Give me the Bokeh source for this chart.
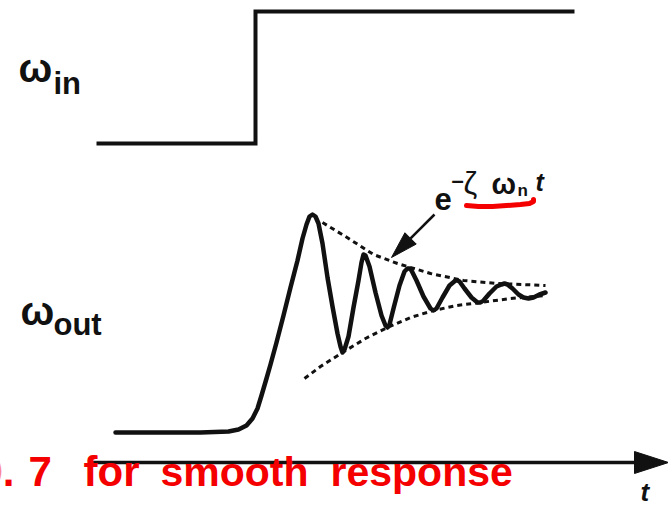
import numpy as np
from bokeh.plotting import figure
from bokeh.models import Range1d
from bokeh.core.properties import value
from bokeh.embed import file_html
from bokeh.resources import INLINE

# Canvas coordinates: horizontal = time, vertical = level (grows downward)
W, H = 668, 508

# Step input ω_in
in_t = [96, 255, 255, 574]
in_level = [143, 143, 11, 11]

# Output ω_out: underdamped step response (points along the trace)
out_t = [115, 200, 228, 238, 246, 252, 257, 261, 266, 270, 276, 283, 290, 297,
         302, 306, 309, 312, 315, 318, 322, 327, 332, 337, 340, 342, 344, 348,
         353, 358, 361, 363, 365, 369, 375, 381, 385, 387, 389, 393, 399, 404,
         407, 409, 411, 416, 423, 430, 433, 436, 442, 449, 455, 457, 459, 464,
         471, 477, 480, 483, 489, 496, 501, 504, 507, 512, 518, 523, 528, 533,
         539, 545]
out_level = [432, 432, 431, 429, 425, 418, 408, 395, 378, 364, 342, 315, 287, 260,
             238, 224, 216, 214, 216, 223, 243, 277, 306, 333, 346, 352, 349, 336,
             307, 280, 262, 254, 255, 266, 292, 315, 325, 327, 324, 308, 285, 271,
             268, 268, 270, 280, 296, 308, 310, 308, 297, 285, 280, 280, 281, 288,
             297, 302, 302, 300, 293, 286, 284, 283, 284, 288, 294, 297, 298, 297,
             294, 292]

# Decay envelopes e^{-ζω_n t}
env_up_t = [322, 345, 373, 397, 430, 463, 497, 545]
env_up_level = [222, 236, 254, 263, 273, 280, 283, 285]
env_lo_t = [304, 320, 342, 365, 387, 410, 433, 456, 480, 510, 545]
env_lo_level = [378, 366, 352, 338, 327, 317, 310, 305, 302, 298, 295]

# Hand-drawn underline under ζω_n
mark_t = [466, 478, 492, 506, 520, 529, 533, 533]
mark_level = [205, 206, 206, 205, 204, 203, 201, 199]

p = figure(width=W, height=H, x_range=Range1d(0, W), y_range=Range1d(H, 0),
           toolbar_location=None, output_backend="svg",
           x_axis_location=None, y_axis_location=None,
           min_border=0, min_border_left=0, min_border_right=0,
           min_border_top=0, min_border_bottom=0)
p.grid.visible = False
p.outline_line_color = None
p.background_fill_color = "white"
p.border_fill_color = "white"

ink = "#111111"
red = "#f50000"

# time axis with arrowhead
p.line([90, 640], [462, 462], line_width=3.5, line_color=ink)
p.patch([634, 668, 634], [451, 462, 473], fill_color=ink, line_color=ink)

# signals
p.line(in_t, in_level, line_width=4, line_color=ink, line_join="miter")
p.line(out_t, out_level, line_width=4.5, line_color=ink, line_join="round",
       line_cap="round")
p.line(env_up_t, env_up_level, line_width=3, line_color=ink, line_dash="5 4")
p.line(env_lo_t, env_lo_level, line_width=3, line_color=ink, line_dash="5 4")

# annotation arrow pointing at the envelope
tip = np.array([391.0, 257.0])
tail = np.array([434.0, 214.0])
d = (tip - tail) / np.linalg.norm(tip - tail)
n = np.array([-d[1], d[0]])
base = tip - 27 * d
p.line([tail[0], base[0]], [tail[1], base[1]], line_width=2.5, line_color=ink)
hx = [tip[0], base[0] + 8 * n[0], base[0] - 8 * n[0]]
hy = [tip[1], base[1] + 8 * n[1], base[1] - 8 * n[1]]
p.patch(hx, hy, fill_color=ink, line_color=ink)

sans = value("Liberation Sans")


def label(x, y, s, size, style="normal", color=ink, align="left"):
    # y is the baseline; the glyph is anchored at its middle
    px = float(size.rstrip("px"))
    p.text(x=[x], y=[y - 0.28 * px], text=[s], text_font=sans,
           text_font_size=size, text_font_style=style, text_color=color,
           text_align=align, text_baseline="middle")


# signal names
label(18, 79, "ω", "40px", "bold")
label(53, 92, "in", "31px", "bold")
label(20, 322, "ω", "40px", "bold")
label(53, 333, "out", "31px", "bold")

# envelope expression
label(434, 207, "e", "31px", "bold")
label(451, 186, "–", "22px", "bold")
label(463, 192, "ζ", "31px")
label(491, 192, "ω", "29px", "bold")
label(517, 195, "n", "17px", "bold")
label(535, 188, "t", "25px", "bold italic")
label(640, 499, "t", "26px", "bold italic")

# red underline and handwritten note
p.line(mark_t, mark_level, line_width=5, line_color=red, line_cap="round",
       line_join="round")
label(14, 483, "0.", "42px", "bold", red, "right")
label(28, 483, "7", "42px", "bold", red)
label(83, 483, "for", "42px", "bold", red)
label(160, 483, "smooth", "41px", "bold", red)
label(330, 483, "response", "41px", "bold", red)

open("out.html", "w").write(file_html(p, INLINE))
